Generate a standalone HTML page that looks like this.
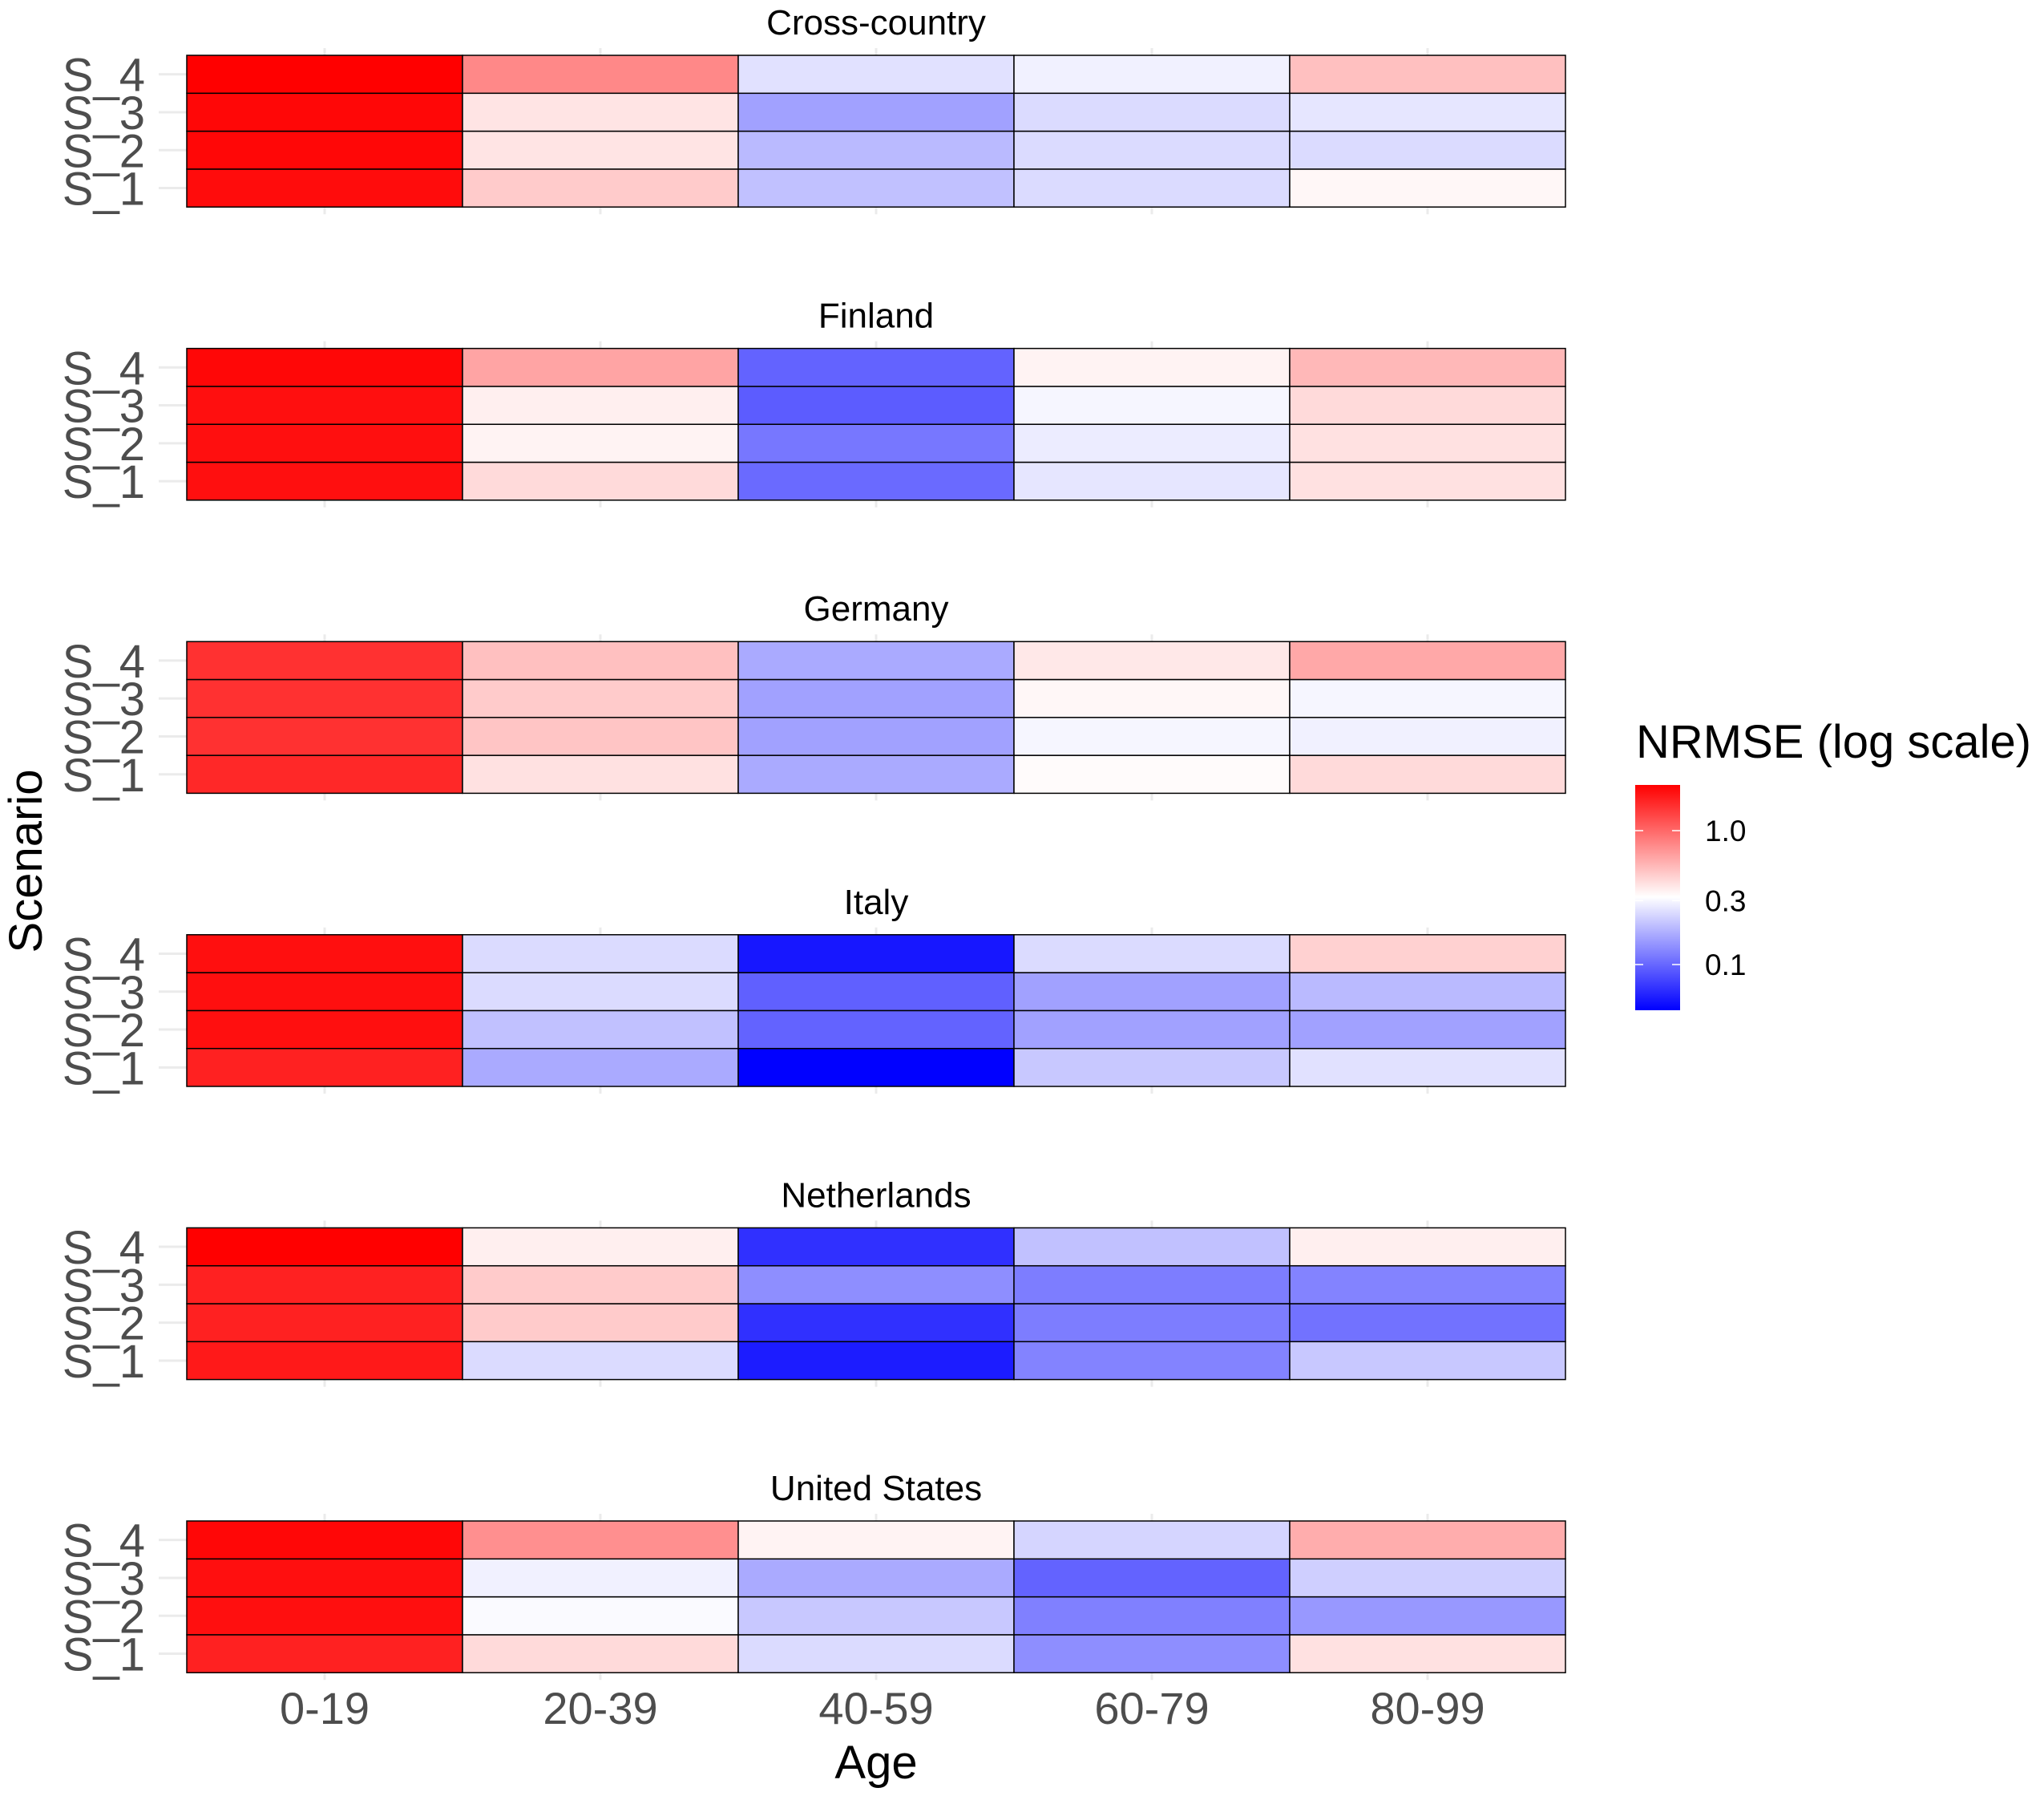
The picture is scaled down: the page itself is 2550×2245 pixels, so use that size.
<!DOCTYPE html>
<html><head><meta charset="utf-8"><style>
html,body{margin:0;padding:0;background:#fff;}
svg{display:block;font-family:"Liberation Sans",Arial,sans-serif;}
</style></head><body>
<svg id="chart" width="2550" height="2245" viewBox="0 0 2550 2245" xmlns="http://www.w3.org/2000/svg">
<defs>
<linearGradient id="lg" x1="0" y1="0" x2="0" y2="1">
<stop offset="0" stop-color="#ff0000"/>
<stop offset="0.497" stop-color="#ffffff"/>
<stop offset="1" stop-color="#0000ff"/>
</linearGradient>
</defs>
<g id="panels"></g>
<text x="0" y="0" transform="translate(52,1074) rotate(-90)" text-anchor="middle" font-size="58" fill="#000">Scenario</text>
<text x="1093" y="2218" text-anchor="middle" font-size="58" fill="#000">Age</text>
<g>
<text x="2041" y="945" font-size="58" fill="#000">NRMSE (log scale)</text>
<rect x="2040" y="979" width="56" height="281" fill="url(#lg)"/>
<g id="legticks"></g>
</g>
</svg>
<script>
const ages = ["0-19","20-39","40-59","60-79","80-99"];
const scenarios = ["S_1","S_2","S_3","S_4"];
const countries = ["Cross-country","Finland","Germany","Italy","Netherlands","United States"];
const legendBreaks = [1.0,0.3,0.1];
const legendLabels = ["1.0","0.3","0.1"];
// values per country: rows S_1..S_4, cols ages
const crossCountry = [[1.99,0.45,0.19,0.23,0.32],[2.07,0.37,0.18,0.23,0.23],[2.07,0.37,0.15,0.23,0.25],[2.19,0.76,0.24,0.27,0.49]];
const finland = [[1.95,0.40,0.10,0.25,0.38],[1.95,0.33,0.11,0.26,0.38],[1.95,0.34,0.090,0.28,0.40],[2.07,0.61,0.095,0.33,0.52]];
const germany = [[1.60,0.38,0.16,0.31,0.40],[1.50,0.47,0.15,0.28,0.27],[1.50,0.45,0.15,0.32,0.28],[1.50,0.49,0.16,0.36,0.59]];
const italy = [[1.69,0.16,0.046,0.20,0.24],[1.95,0.19,0.095,0.15,0.15],[1.95,0.23,0.093,0.15,0.18],[1.95,0.23,0.054,0.23,0.43]];
const netherlands = [[1.80,0.23,0.056,0.12,0.20],[1.69,0.45,0.065,0.115,0.106],[1.69,0.45,0.13,0.115,0.12],[2.19,0.34,0.065,0.19,0.34]];
const unitedStates = [[1.69,0.40,0.23,0.13,0.38],[1.95,0.29,0.20,0.117,0.14],[1.95,0.27,0.16,0.095,0.21],[2.07,0.72,0.33,0.22,0.57]];
const allData = [crossCountry,finland,germany,italy,netherlands,unitedStates];

const NS="http://www.w3.org/2000/svg";
const X0=233, CW=344, RH=47.3, PH=189.2, TOP0=69, PSTEP=365.6;
const LMAX=0.341, LMID=Math.log10(0.3), LMIN=-1.341;
function color(v){
  const L=Math.log10(v);
  if(L>=LMID){let t=Math.min(1,(L-LMID)/(LMAX-LMID));const g=Math.round(255*(1-t));return `rgb(255,${g},${g})`;}
  let t=Math.min(1,(LMID-L)/(LMID-LMIN));const g=Math.round(255*(1-t));return `rgb(${g},${g},255)`;
}
function xPos(i){return X0+i*CW;}
function yPos(p,r){return TOP0+p*PSTEP+(3-r)*RH;}
function el(tag,attrs,parent){const e=document.createElementNS(NS,tag);for(const k in attrs)e.setAttribute(k,attrs[k]);parent.appendChild(e);return e;}
const panels=document.getElementById('panels');
countries.forEach((c,p)=>{
  const g=el('g',{},panels);
  
  
  const top=TOP0+p*PSTEP;
  ages.forEach((a,i)=>{
    const l=el('line',{x1:xPos(i)+CW/2,x2:xPos(i)+CW/2,y1:top-9,y2:top+PH+9,stroke:'#ebebeb','stroke-width':3},g);
    
    
  });
  scenarios.forEach((s,r)=>{
    const cy=yPos(p,r)+RH/2;
    const l=el('line',{x1:198,x2:X0+5*CW,y1:cy,y2:cy,stroke:'#ebebeb','stroke-width':3},g);
    
    
    const t=el('text',{x:181,y:cy+21,'text-anchor':'end','font-size':58,fill:'#4d4d4d'},g);
    t.textContent=s;
    
    
  });
  const data=allData[p];
  data.forEach((row,r)=>{
    row.forEach((v,i)=>{
      const rc=el('rect',{x:xPos(i),y:yPos(p,r),width:CW,height:RH,fill:color(v),stroke:'#000','stroke-width':1.5},g);
      
      
    });
  });
  const tt=el('text',{x:X0+2.5*CW,y:top-26,'text-anchor':'middle','font-size':44,fill:'#000'},g);
  tt.textContent=c;
  
  
});
ages.forEach((a,i)=>{
  const t=el('text',{x:xPos(i)+CW/2,y:2150,'text-anchor':'middle','font-size':56,fill:'#4d4d4d'},panels);
  t.textContent=a;
  
  
});
const lt=document.getElementById('legticks');
function legY(v){return 1036+(0-Math.log10(v))*167;}
legendBreaks.forEach((b,i)=>{
  const y=legY(b);
  el('line',{x1:2040,x2:2050,y1:y,y2:y,stroke:'#fff','stroke-width':1.5},lt);
  el('line',{x1:2086,x2:2096,y1:y,y2:y,stroke:'#fff','stroke-width':1.5},lt);
  const t=el('text',{x:2127,y:y+13,'font-size':37,fill:'#000'},lt);
  t.textContent=legendLabels[i];
  
  
});
</script>
</body></html>
